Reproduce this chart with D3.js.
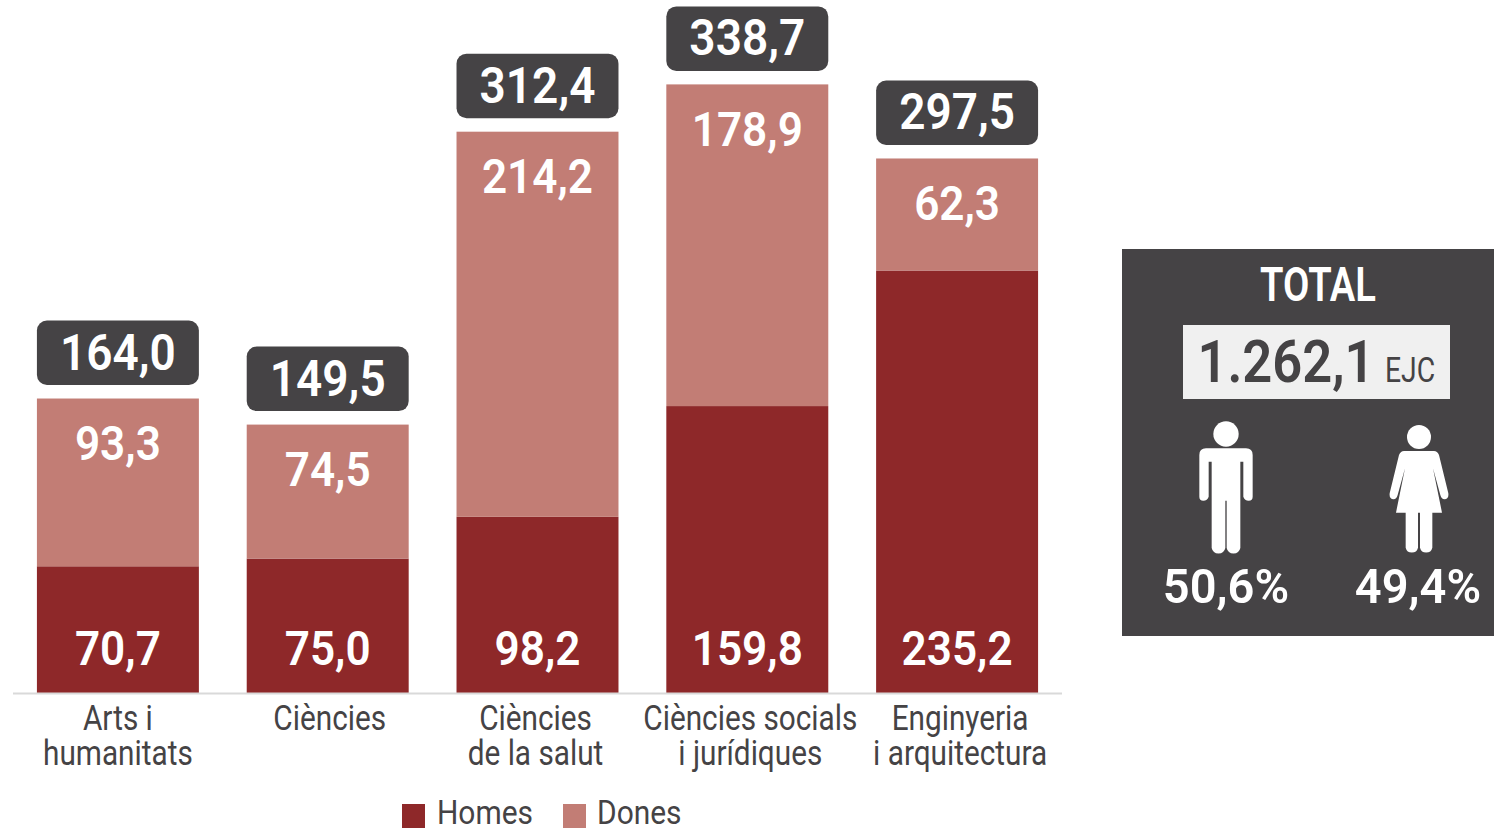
<!DOCTYPE html>
<html><head><meta charset="utf-8">
<script src="https://cdn.jsdelivr.net/npm/d3@7"></script>
<style>html,body{margin:0;padding:0;background:#fff;overflow:hidden}svg{display:block}text{font-family:Roboto,sans-serif}</style>
</head><body><svg id="c" width="1494" height="829"></svg>
<script>
const categories = ["Arts i|humanitats","Ciències","Ciències|de la salut","Ciències socials|i jurídiques","Enginyeria|i arquitectura"];
const homes = [70.7,75.0,98.2,159.8,235.2];
const dones = [93.3,74.5,214.2,178.9,62.3];
const totals = [164.0,149.5,312.4,338.7,297.5];
const seriesNames = ["Homes","Dones"];
const totalTitle = "TOTAL", totalValue = "1.262,1", totalUnit = "EJC", pctMen = "50,6%", pctWomen = "49,4%";
const labelNudge = [0,2,-2,3,3];
const dark="#8e2829", light="#c27d75", grey="#454345";
const fmt = v => v.toFixed(1).replace(".",",");
const svg = d3.select("#c");
const x = d3.scaleBand().domain(categories).range([13,1062]).paddingInner(0.228).paddingOuter(0.114);
const y = d3.scaleLinear().domain([0,338.7]).range([693.4,84.4]);
const color = d3.scaleOrdinal().domain(seriesNames).range([dark,light]);
function txt(g,s,px,py,size,weight,fill,sx){
  return g.append("text").attr("transform",`translate(${px},${py}) scale(${sx},1)`)
    .attr("text-anchor","middle").attr("font-size",size).attr("font-weight",weight).attr("fill",fill).text(s);
}
const stack = d3.stack().keys(seriesNames).value((d,k)=>k==="Homes"?d.h:d.d);
const rows = categories.map((c,i)=>({c,h:homes[i],d:dones[i],t:totals[i],i}));
const layers = stack(rows);
svg.selectAll("g.l").data(layers).join("g").attr("fill",l=>color(l.key))
  .selectAll("rect").data(l=>l).join("rect")
  .attr("x",d=>x(d.data.c)).attr("width",x.bandwidth())
  .attr("y",d=>y(d[1])).attr("height",d=>y(d[0])-y(d[1]));
svg.append("line").attr("x1",13).attr("x2",1062).attr("y1",693.5).attr("y2",693.5).attr("stroke","#d9d9d9").attr("stroke-width",2);
rows.forEach(r=>{
  const cx=x(r.c)+x.bandwidth()/2, top=y(r.t);
  txt(svg,fmt(r.h),cx,665,49,600,"#fff",0.9);
  txt(svg,fmt(r.d),cx,y(r.t)+61.5,49,600,"#fff",0.9);
  svg.append("rect").attr("x",x(r.c)).attr("width",x.bandwidth()).attr("y",top-78).attr("height",64.5).attr("rx",10).attr("fill",grey);
  txt(svg,fmt(r.t),cx,top-29,50,600,"#fff",0.92);
  r.c.split("|").forEach((s,j)=>txt(svg,s,cx+labelNudge[r.i],730+j*34.5,35,400,grey,0.85));
});
// legend
[[402,437,"Homes",dark],[563,597,"Dones",light]].forEach(([sx,tx,n,col])=>{
  svg.append("rect").attr("x",sx).attr("y",804).attr("width",23).attr("height",24).attr("fill",col);
  svg.append("text").attr("transform",`translate(${tx},824) scale(0.88,1)`).attr("font-size",34).attr("fill",grey).text(n);
});
// total panel
svg.append("rect").attr("x",1122).attr("y",249).attr("width",372).attr("height",387).attr("fill",grey);
txt(svg,totalTitle,1318,301,49,600,"#fff",0.78);
svg.append("rect").attr("x",1183).attr("y",325).attr("width",267).attr("height",74).attr("fill","#f0f0f0");
txt(svg,totalValue,1286,382,60,600,grey,0.875);
txt(svg,totalUnit,1410,382,35,400,grey,0.81);
const man="M-60,610H60Q80,610 80,630V755Q80,767 68,767Q56,767 52,755V650H43V909A21,21 0 0 1 2,909V767H-2V909A21,21 0 0 1 -43,909V650H-52V755Q-56,767 -68,767Q-80,767 -80,755V630Q-80,610 -60,610Z";
const woman="M-45,618H45Q55,618 60,630L88,745Q90,762 76,763Q68,763 64,750L42,670L69,803H40V908A19,19 0 0 1 3,908V803H-3V908A19,19 0 0 1 -40,908V803H-69L-42,670L-64,750Q-68,763 -76,763Q-90,762 -88,745L-60,630Q-55,618 -45,618Z";
function person(cx,d,hy,hr){
  const g=svg.append("g").attr("transform",`translate(${cx},245) scale(0.3333)`).attr("fill","#fff");
  g.append("circle").attr("cy",hy).attr("r",hr);
  g.append("path").attr("d",d);
}
person(1226,man,567,38);
person(1419,woman,576,36);
txt(svg,pctMen,1226,603,49,600,"#fff",0.96);
txt(svg,pctWomen,1418,603,49,600,"#fff",0.96);
</script></body></html>
